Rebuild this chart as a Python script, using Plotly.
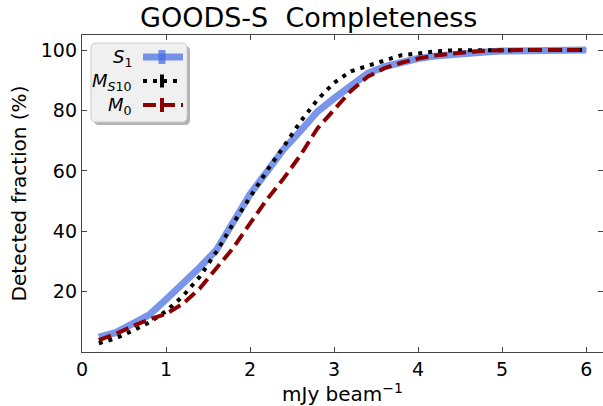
import plotly.graph_objects as go

# ---- data ----
flux = [0.2, 0.4, 0.6, 0.8, 1.0, 1.2, 1.4, 1.6, 1.8, 2.0, 2.2, 2.4, 2.6, 2.8, 3.0,
        3.2, 3.4, 3.6, 3.8, 4.0, 4.2, 4.4, 4.6, 4.8, 5.0, 5.2, 5.4, 5.6, 5.8, 6.0]
s1 = [4.9, 6.4, 9.3, 12.3, 17.4, 22.5, 28.0, 33.8, 42.6, 52.3, 59.7, 67.2, 73.2, 79.6, 84.0,
      88.0, 92.3, 94.5, 95.9, 97.2, 98.0, 98.6, 99.1, 99.4, 99.7, 99.8, 99.9, 100.0, 100.0, 100.0]
ms10 = [2.9, 4.5, 7.0, 9.8, 13.5, 18.5, 24.9, 33.2, 42.6, 51.5, 60.0, 68.0, 76.3, 83.5, 89.2,
        93.0, 94.8, 96.7, 98.3, 98.9, 99.6, 99.9, 100.0, 100.0, 100.0, 100.0, 100.0, 100.0, 100.0, 100.0]
m0 = [3.9, 6.0, 8.5, 10.8, 12.6, 16.0, 21.0, 27.5, 34.5, 42.6, 50.5, 57.5, 65.2, 74.0, 80.5,
      86.5, 91.2, 94.0, 95.8, 97.2, 98.2, 98.9, 99.4, 99.8, 100.0, 100.0, 100.0, 100.0, 100.0, 100.0]
x_ticks = [0, 1, 2, 3, 4, 5, 6]
y_ticks = [20, 40, 60, 80, 100]

W, H = 603, 406
L, R, T, B = 82, 603, 35, 352


def px(x):
    return (x - L) / (R - L)


def py(y):
    return (B - y) / (B - T)


BLUE = "rgba(65,105,225,0.7)"
BLACK = "black"
RED = "#8b0000"

fig = go.Figure()
fig.add_trace(go.Scatter(x=flux, y=s1, mode="lines", line=dict(color=BLUE, width=7)))
fig.add_trace(go.Scatter(x=flux, y=ms10, mode="lines", line=dict(color=BLACK, width=4, dash="4px,6px")))
fig.add_trace(go.Scatter(x=flux, y=m0, mode="lines", line=dict(color=RED, width=4, dash="13px,6px")))

font_main = "DejaVu Sans"
axis_common = dict(
    showline=True, linecolor="#444", linewidth=1.3, mirror="ticks",
    ticks="inside", ticklen=5, tickwidth=1, tickcolor="#444",
    showgrid=False, zeroline=False,
    tickfont=dict(family=font_main, size=19, color="black"),
)
fig.update_xaxes(range=[0, 6.2], tickvals=x_ticks, **axis_common,
                 title=dict(text="mJy beam<sup>\u22121</sup>", font=dict(family=font_main, size=20, color="black"),
                            standoff=6))
fig.update_yaxes(range=[0, 105], tickvals=y_ticks, **axis_common,
                 title=dict(text="Detected fraction (%)", font=dict(family=font_main, size=20, color="black"),
                            standoff=8))

shapes = []
annotations = []


def rounded(x0, y0, x1, y1, r):
    def P(x, y):
        return f"{px(x):.5f},{py(y):.5f}"
    return (f"M {P(x0 + r, y0)} L {P(x1 - r, y0)} Q {P(x1, y0)} {P(x1, y0 + r)} "
            f"L {P(x1, y1 - r)} Q {P(x1, y1)} {P(x1 - r, y1)} L {P(x0 + r, y1)} "
            f"Q {P(x0, y1)} {P(x0, y1 - r)} L {P(x0, y0 + r)} Q {P(x0, y0)} {P(x0 + r, y0)} Z")


shapes.append(dict(type="path", xref="paper", yref="paper", path=rounded(94, 46, 190, 125, 5),
                   fillcolor="rgba(0,0,0,0.3)", line=dict(width=0)))
shapes.append(dict(type="path", xref="paper", yref="paper", path=rounded(91, 43, 187, 122, 5),
                   fillcolor="#f0f0f0", line=dict(color="#cccccc", width=1)))

entries = [
    ("<i>S</i><sub>1</sub>", 57, BLUE, 7, "solid", 14, 7),
    ("<i>M</i><sub><i>S</i>10</sub>", 81, BLACK, 4, "4px,6px", 13, 4),
    ("<i>M</i><sub>0</sub>", 105, RED, 4, "13px,6px", 14, 4),
]
for label, yy, col, w, dash, barh, barw in entries:
    shapes.append(dict(type="line", xref="paper", yref="paper",
                       x0=px(143), x1=px(183), y0=py(yy), y1=py(yy),
                       line=dict(color=col, width=w, dash=dash)))
    shapes.append(dict(type="line", xref="paper", yref="paper",
                       x0=px(162), x1=px(162), y0=py(yy - barh / 2), y1=py(yy + barh / 2),
                       line=dict(color=col, width=barw)))
    annotations.append(dict(text=label, xref="paper", yref="paper", x=px(134), y=py(yy + 1),
                            xanchor="right", yanchor="middle", showarrow=False,
                            font=dict(family=font_main, size=18, color="black")))

annotations.append(dict(text="GOODS-S  Completeness", xref="paper", yref="paper",
                        x=px(308), y=py(18), xanchor="center", yanchor="middle", showarrow=False,
                        font=dict(family=font_main, size=27, color="black")))

fig.update_layout(
    width=W, height=H,
    margin=dict(l=L, r=W - R, t=T, b=H - B, pad=0),
    paper_bgcolor="white", plot_bgcolor="white",
    showlegend=False,
    shapes=shapes, annotations=annotations,
)

fig.write_html("out.html")
